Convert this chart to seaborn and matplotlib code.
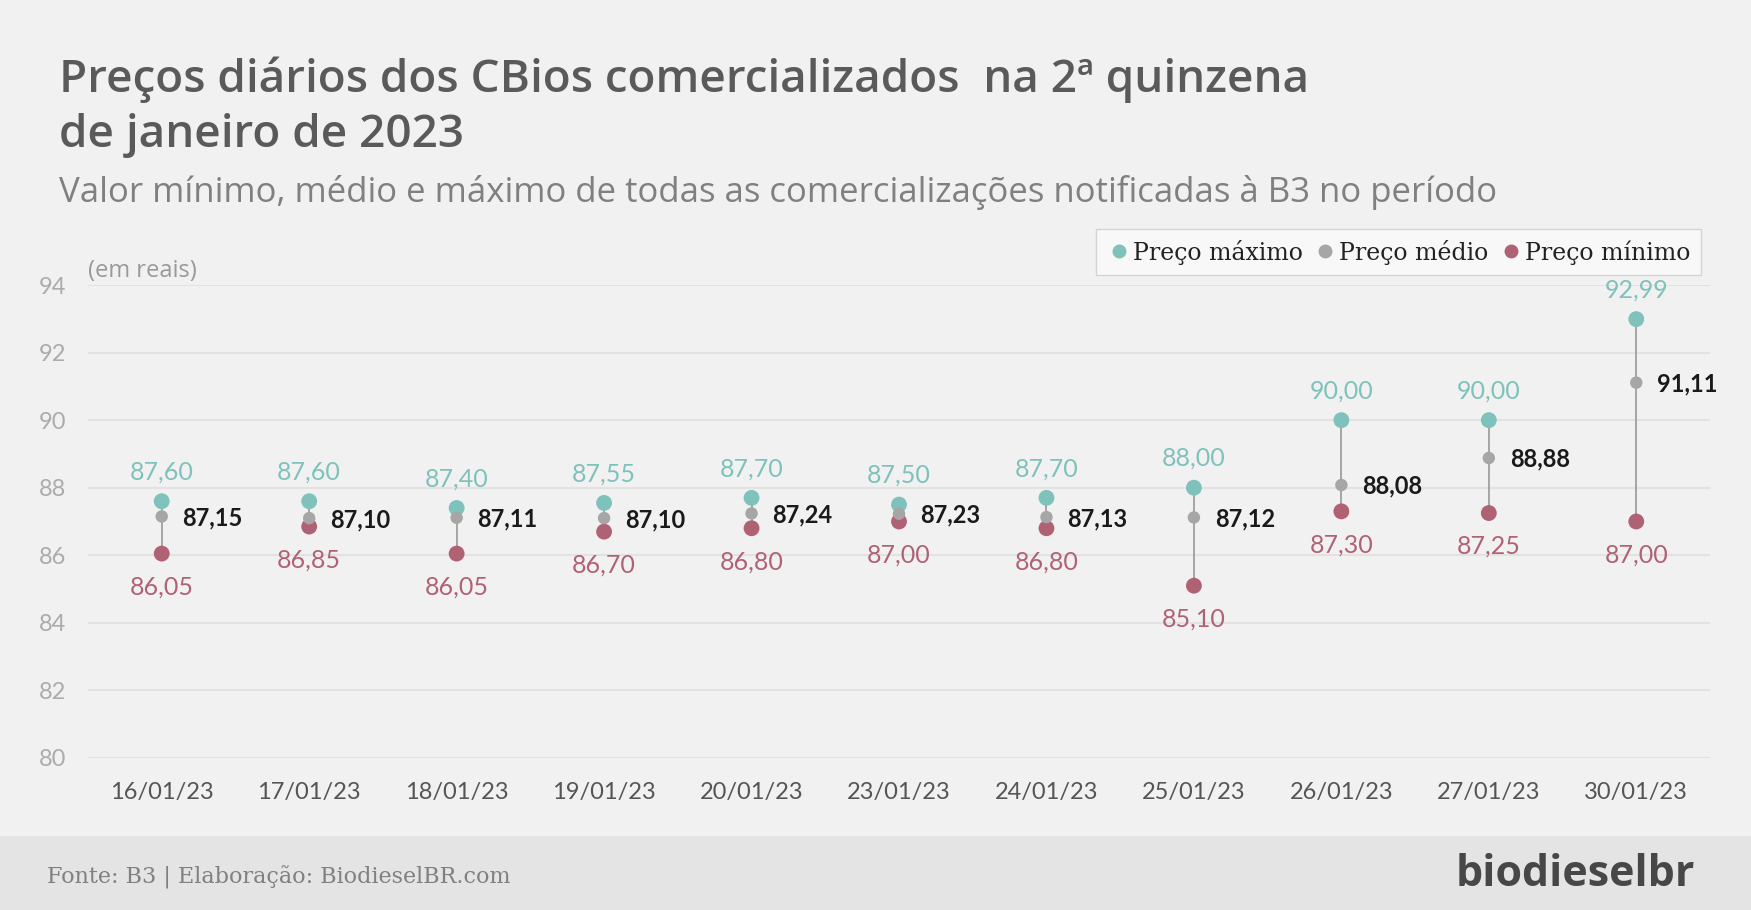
import pandas as pd
import matplotlib.pyplot as plt
import matplotlib.patches as mpatches
from matplotlib.lines import Line2D
import seaborn as sns

# dados (B3)
datas = ['16/01/23', '17/01/23', '18/01/23', '19/01/23', '20/01/23', '23/01/23',
         '24/01/23', '25/01/23', '26/01/23', '27/01/23', '30/01/23']
preco_max = [87.60, 87.60, 87.40, 87.55, 87.70, 87.50, 87.70, 88.00, 90.00, 90.00, 92.99]
preco_med = [87.15, 87.10, 87.11, 87.10, 87.24, 87.23, 87.13, 87.12, 88.08, 88.88, 91.11]
preco_min = [86.05, 86.85, 86.05, 86.70, 86.80, 87.00, 86.80, 85.10, 87.30, 87.25, 87.00]
y_ticks = [80, 82, 84, 86, 88, 90, 92, 94]

cor_max = '#7fc1bb'
cor_med = '#a6a6a6'
cor_min = '#b06275'
fundo = '#f1f1f1'

sns.set_style('white')
plt.rcParams['font.family'] = ['Lato', 'DejaVu Sans']

df = pd.DataFrame({'data': datas, 'max': preco_max, 'med': preco_med, 'min': preco_min})
x = list(range(len(datas)))

fig = plt.figure(figsize=(17.51, 9.10), dpi=100, facecolor=fundo)
ax = fig.add_axes([88 / 1751, 1 - 758 / 910, (1710 - 88) / 1751, (758 - 285) / 910])
ax.set_facecolor(fundo)

# linhas verticais min-max
ax.vlines(x, df['min'], df['max'], color='#a0a0a0', lw=1.3, zorder=2)

sns.scatterplot(data=df, x='data', y='max', color=cor_max, s=130, edgecolor='none', ax=ax, zorder=3)
sns.scatterplot(data=df, x='data', y='min', color=cor_min, s=130, edgecolor='none', ax=ax, zorder=3)
sns.scatterplot(data=df, x='data', y='med', color=cor_med, s=80, edgecolor='none', ax=ax, zorder=4)

fmt = lambda v: f'{v:.2f}'.replace('.', ',')
for i, row in df.iterrows():
    ax.annotate(fmt(row['max']), (i, row['max']), xytext=(0, 21), textcoords='offset points',
                ha='center', va='center', fontsize=18, color=cor_max)
    ax.annotate(fmt(row['min']), (i, row['min']), xytext=(0, -24), textcoords='offset points',
                ha='center', va='center', fontsize=18, color=cor_min)
    ax.annotate(fmt(row['med']), (i, row['med']), xytext=(15, -1), textcoords='offset points',
                ha='left', va='center', fontsize=17, color='#1a1a1a', fontweight='bold')

ax.set_ylim(80, 94)
ax.set_xlim(-0.5, len(datas) - 0.5)
ax.set_yticks(y_ticks)
ax.set_xticks(x)
ax.set_xticklabels(datas)
ax.set_xticks([i - 0.5 for i in range(len(datas) + 1)], minor=True)
ax.grid(axis='y', color='#e2e2e2', lw=1.5)
ax.set_axisbelow(True)
ax.tick_params(axis='y', labelsize=17, labelcolor='#ababab', length=0, pad=16)
ax.tick_params(axis='x', which='major', labelsize=17, labelcolor='#555555', length=0, pad=17)
ax.tick_params(axis='x', which='minor', length=7, color='#dddddd', width=1)
ax.set_xlabel('')
ax.set_ylabel('')
for s in ax.spines.values():
    s.set_visible(False)

ax.text(0, 1.03, '(em reais)', transform=ax.transAxes, fontsize=17, color='#999999',
        family='Open Sans', ha='left', va='center')

# legenda
handles = [Line2D([], [], marker='o', ls='', color=c, markersize=9) for c in (cor_max, cor_med, cor_min)]
leg = fig.legend(handles, ['Preço máximo', 'Preço médio', 'Preço mínimo'], ncol=3,
                 loc='upper right', bbox_to_anchor=(1701 / 1751, 1 - 229 / 910),
                 borderaxespad=0, frameon=True, fancybox=False, facecolor='#fbfbfb',
                 edgecolor='#cccccc', handletextpad=0.1, columnspacing=0.45, handlelength=1.0,
                 borderpad=0.45, prop={'family': 'DejaVu Serif', 'size': 17})
for t in leg.get_texts():
    t.set_color('#222222')

# títulos
fig.text(59 / 1751, 1 - 80 / 910, 'Preços diários dos CBios comercializados  na 2ª quinzena',
         fontsize=33, fontweight='semibold', family='Open Sans', color='#5a5a5a',
         ha='left', va='center')
fig.text(59 / 1751, 1 - 136 / 910, 'de janeiro de 2023',
         fontsize=33, fontweight='semibold', family='Open Sans', color='#5a5a5a',
         ha='left', va='center')
fig.text(59 / 1751, 1 - 192 / 910,
         'Valor mínimo, médio e máximo de todas as comercializações notificadas à B3 no período',
         fontsize=25, family='Open Sans', color='#808080', ha='left', va='center')

# rodapé
fig.patches.append(mpatches.Rectangle((0, 0), 1, 1 - 836 / 910, transform=fig.transFigure,
                                      facecolor='#e4e4e4', edgecolor='none', zorder=0))
fig.text(47 / 1751, 1 - 877 / 910, 'Fonte: B3 | Elaboração: BiodieselBR.com',
         fontsize=16, color='#808080', family='DejaVu Serif', ha='left', va='center')
fig.text(1695 / 1751, 1 - 874 / 910, 'biodieselbr', fontsize=31, fontweight='bold',
         color='#474747', family='Open Sans', ha='right', va='center')

fig.savefig('out.png', dpi=100, facecolor=fundo)
